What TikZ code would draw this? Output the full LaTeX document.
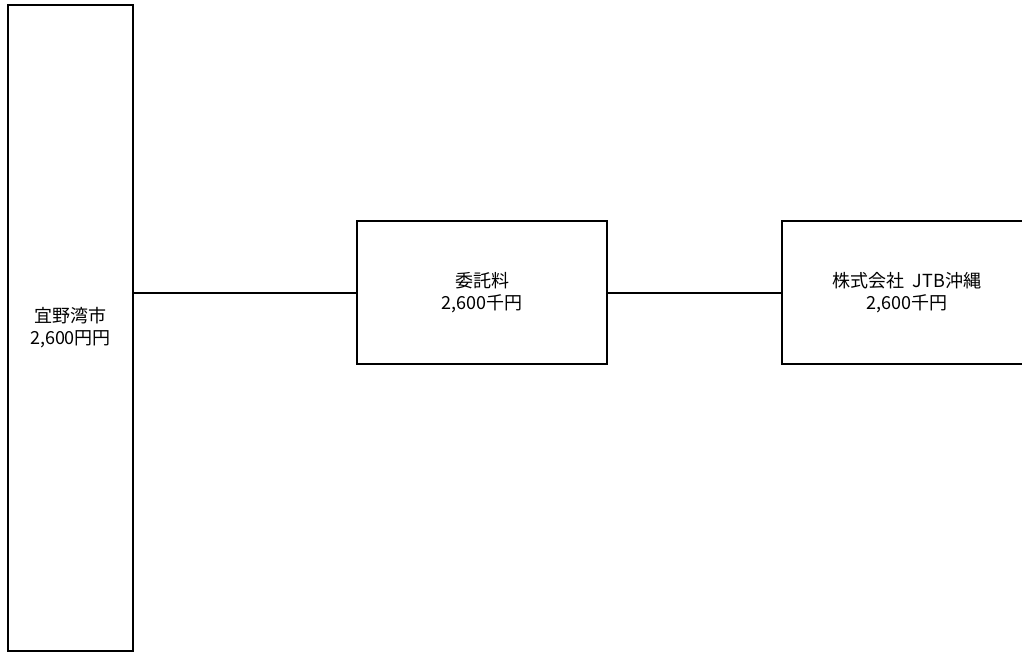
\documentclass[tikz,border=0pt]{standalone}
\usepackage{fontspec}
\newfontfamily\jp{Noto Sans CJK JP}
\begin{document}
\begin{tikzpicture}[x=0.75pt,y=-0.75pt,
  box/.style={draw=black,line width=1.5pt,inner sep=0pt,align=center,
    font=\jp\fontsize{13.5}{17.5}\selectfont},
  link/.style={draw=black,line width=1.5pt}]
\useasboundingbox (0,0) rectangle (1022,653);
\clip (0,0) rectangle (1022,653);
\fill[white] (0,0) rectangle (1022,653);
\node[box,minimum width=93.75pt,minimum height=484.5pt] (city) at (70.5,328) {宜野湾市\\[-1pt]2,600円円};
\node[box,minimum width=187.5pt,minimum height=107.25pt] (fee) at (482,292.5) {委託料\\[-1pt]2,600千円};
\node[box,minimum width=187.5pt,minimum height=107.25pt] (jtb) at (907,292.5) {株式会社\ \ JTB沖縄\\[-1pt]2,600千円};
\draw[link] (fee.west) -- (fee.west -| city.east);
\draw[link] (fee.east) -- (jtb.west);
\end{tikzpicture}
\end{document}
